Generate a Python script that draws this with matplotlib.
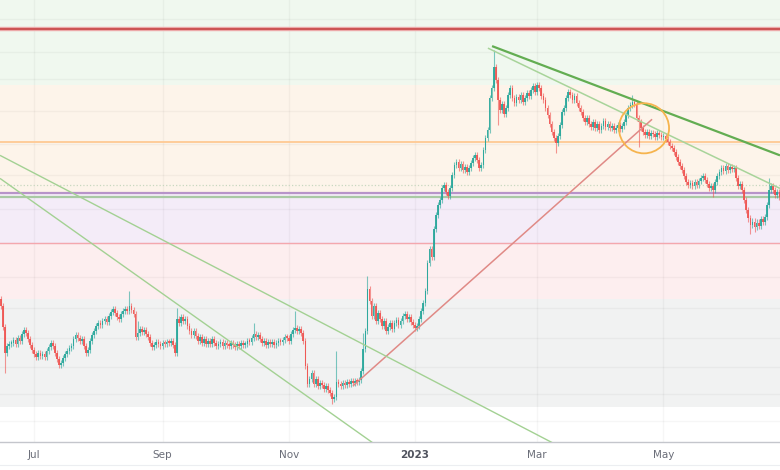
import numpy as np
import pandas as pd
import matplotlib
matplotlib.use("Agg")
import matplotlib.pyplot as plt
import matplotlib.dates as mdates
from matplotlib.patches import Ellipse
from matplotlib.lines import Line2D

# ---------------- data ----------------
start_date = "2022-06-15"
first_open = 143
closes = [
    136, 115, 89, 96, 98, 99, 102, 98, 104, 101,
    108, 112, 109, 103, 97, 92, 88, 85, 89, 86,
    88, 85, 91, 95, 99, 96, 89, 83, 77, 79,
    84, 88, 91, 94, 96, 103, 107, 104, 101, 103,
    96, 89, 92, 101, 107, 111, 116, 119, 117, 121,
    123, 120, 126, 130, 133, 129, 125, 123, 128, 131,
    133, 131, 136, 132, 128, 105, 109, 113, 110, 112,
    108, 105, 99, 95, 97, 100, 98, 96, 99, 98,
    100, 99, 101, 97, 89, 123, 119, 125, 121, 123,
    116, 111, 107, 111, 106, 101, 105, 99, 103, 98,
    101, 98, 103, 99, 96, 98, 100, 96, 99, 97,
    96, 99, 97, 95, 98, 96, 99, 97, 98, 101,
    100, 104, 108, 105, 107, 103, 99, 101, 97, 100,
    98, 100, 97, 99, 101, 100, 102, 105, 104, 101,
    108, 112, 114, 111, 113, 109, 101, 76, 58, 63,
    69, 58, 63, 56, 59, 57, 53, 56, 52, 49,
    43, 45, 60, 58, 56, 59, 57, 60, 58, 61,
    59, 61, 60, 62, 71, 93, 111, 153, 141, 126,
    136, 121, 129, 123, 116, 121, 111, 115, 119, 113,
    119, 122, 117, 121, 126, 128, 123, 125, 120, 117,
    114, 116, 123, 131, 139, 151, 179, 193, 185, 213,
    226, 236, 241, 253, 256, 249, 245, 253, 266, 276,
    279, 273, 277, 271, 274, 269, 273, 278, 283, 286,
    281, 273, 276, 291, 303, 311, 343, 353, 374, 361,
    341, 331, 337, 327, 333, 346, 353, 343, 338, 344,
    341, 346, 339, 343, 348, 345, 351, 355, 349, 356,
    353, 345, 341, 333, 326, 317, 309, 303, 298, 305,
    316, 329, 333, 343, 349, 346, 341, 345, 338, 333,
    329, 323, 319, 323, 317, 314, 319, 313, 317, 311,
    315, 320, 314, 317, 313, 315, 311, 313, 316, 312,
    315, 319, 326, 333, 336, 339, 337, 323, 319, 313,
    309, 306, 309, 305, 308, 307, 304, 308, 306, 304,
    305, 302, 299, 295, 293, 289, 284, 279, 275, 271,
    265, 259, 256, 258, 255, 259, 256, 260, 263, 265,
    261, 257, 253, 255, 251, 259, 265, 269, 273, 270,
    275, 271, 274, 272, 273, 263, 255, 257, 251, 241,
    231, 223, 217, 220, 215, 219, 216, 222, 220, 224,
    236, 251, 255, 251, 246, 249, 244,
]
# notable wicks: day index -> (high, low); None = default
wicks = {
    2: (None, 69), 62: (151, None), 66: (121, None), 85: (134, None),
    122: (119, None), 142: (131, None), 160: (None, 38), 162: (91, None),
    175: (109, None), 177: (166, None), 238: (391, None), 240: (None, 316),
    268: (None, 288), 305: (346, None), 308: (None, 294), 344: (None, 244),
    362: (None, 208), 364: (None, 210), 371: (263, None),
}

# Fibonacci-style zones (low, high, colour)
zones_low = [356, 248, 199, 143, 35]
zones_high = [470, 356, 248, 199, 143]
zone_colors = ["#f0f8ef", "#fdf4ea", "#f4ecf8", "#fdeeef", "#f1f2f2"]

# level lines
level_prices = [412, 299, 256, 248, 244, 199]
level_colors = ["#cc5555", "#ffcc99", "#c8d8c0", "#b794c9", "#a9c9a4", "#f4a7ae"]
level_widths = [1.6, 1.4, 0.9, 1.6, 1.6, 1.0]
level_styles = ["-", "-", ":", "-", "-", "-"]

grid_prices = [422, 389, 362, 330, 297, 266, 232, 199, 165, 134, 104, 75, 48, 21]

# trend lines: (day0, price0, day1, price1)
trend_lines = [
    (237.2, 395, 376.3, 286),
    (235.2, 393, 376.3, 253),
    (170.0, 56, 314.5, 322),
    (-0.5, 286, 266.6, -1),
    (-0.5, 263, 179.7, -1),
]
trend_colors = ["#63ad52", "#a8d49a", "#e08a86", "#a3d193", "#a3d193"]
trend_widths = [1.6, 1.1, 1.1, 1.0, 1.0]

circle_day, circle_price = 310.6, 313
circle_w_days, circle_h_price = 24.2, 50

tick_dates = ["2022-07-01", "2022-09-01", "2022-11-01", "2023-01-01", "2023-03-01", "2023-05-01"]
tick_labels = ["Jul", "Sep", "Nov", "2023", "Mar", "May"]

# ---------------- plot ----------------
WICK_PAD = 3.0   # drawing style: default shadow length beyond the body
t0 = mdates.date2num(pd.Timestamp(start_date))
n = len(closes)
days = np.arange(n)
xs = t0 + days
c = np.array(closes, dtype=float)
o = np.concatenate([[first_open], c[:-1]])
hi = np.maximum(o, c) + WICK_PAD
lo = np.minimum(o, c) - WICK_PAD
for d, (h, l) in wicks.items():
    if h is not None:
        hi[d] = h
    if l is not None:
        lo[d] = l

fig = plt.figure(figsize=(7.8, 4.7), dpi=100)
fig.patch.set_facecolor("white")
ax = fig.add_axes([0, 28 / 470, 1, 442 / 470])
ax.set_facecolor("white")
ax.set_xlim(t0 - 0.5, t0 + 376.3)
ax.set_ylim(0, 441)

for zl, zh, zc in zip(zones_low, zones_high, zone_colors):
    ax.axhspan(zl, zh, color=zc, lw=0, zorder=0)

for gp in grid_prices:
    ax.axhline(gp, color="#000000", alpha=0.035, lw=1, zorder=0.5)
for td in tick_dates:
    ax.axvline(mdates.date2num(pd.Timestamp(td)), color="#000000", alpha=0.035, lw=1, zorder=0.5)

ax.axhline(412, color="#f0b4b4", lw=3.2, zorder=1)
for lp, lc, lw, ls in zip(level_prices, level_colors, level_widths, level_styles):
    ax.axhline(lp, color=lc, lw=lw, ls=ls, zorder=1.2)

up = c >= o
green = "#26a69a"
red = "#ef5350"
cols = np.where(up, green, red)
ax.vlines(xs, lo, hi, colors=cols, lw=0.8, alpha=0.6, zorder=3)
body_h = np.maximum(np.abs(c - o), 1.5)
ax.bar(xs, body_h, bottom=np.minimum(o, c), width=0.8, color=cols, lw=0, alpha=0.9, zorder=3)

for (d0, p0, d1, p1), tc, tw in zip(trend_lines, trend_colors, trend_widths):
    ax.plot([t0 + d0, t0 + d1], [p0, p1], color=tc, lw=tw, zorder=4, solid_capstyle="butt")

ax.add_patch(Ellipse((t0 + circle_day, circle_price), circle_w_days, circle_h_price,
                     fill=False, ec="#f6b44e", lw=1.3, zorder=5))

ax.set_yticks([])
ax.set_xticks([mdates.date2num(pd.Timestamp(td)) for td in tick_dates])
ax.set_xticklabels(tick_labels, fontsize=7.5, color="#6a6d78", family="DejaVu Sans")
for lab in ax.get_xticklabels():
    if lab.get_text() == "2023":
        lab.set_fontweight("bold")
        lab.set_color("#50535e")
ax.tick_params(axis="x", length=0, pad=6)
for s in ["top", "right", "left"]:
    ax.spines[s].set_visible(False)
ax.spines["bottom"].set_color("#c4c6cc")
ax.spines["bottom"].set_linewidth(1.0)

fig.add_artist(Line2D([0, 1], [5 / 470, 5 / 470], color="#eceef1", lw=0.8))

fig.savefig("out.png", dpi=100, facecolor="white")
